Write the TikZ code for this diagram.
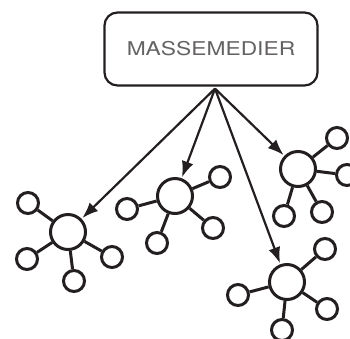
\documentclass[tikz,border=0pt]{standalone}
\usepackage{fontspec}
\setmainfont{TeX Gyre Heros}
\usepackage{tikz}
\usetikzlibrary{arrows.meta,calc}

\definecolor{ink}{HTML}{231F20}

\begin{document}
\begin{tikzpicture}[
		x=1pt, y=-1pt,
		media/.style={draw=ink, line width=2.2pt, rounded corners=13pt, minimum width=213pt, minimum height=73pt, align=center, font=\fontsize{19}{22}\selectfont, text=ink!70},
		hub/.style={draw=ink, circle, line width=3pt, minimum size=35pt, inner sep=0pt},
		sat/.style={draw=ink, circle, line width=3pt, minimum size=21pt, inner sep=0pt},
		spoke/.style={draw=ink, line width=3pt},
		arr/.style={-{Latex[length=16pt, width=12pt]}, draw=ink, line width=2.2pt, shorten >=1pt}
		]
		\clip (0,0) rectangle (350,338);
		
		\node[media] (mm) at (211,49) {\scalebox{1.2}[1]{MASSEMEDIER}};
		\coordinate (src) at ($(mm.south)+(4,2)$);
		
		% left group
		\node[hub] (g1) at (68,232) {};
		\node[sat] (g1a) at (28,203) {};
		\node[sat] (g1b) at (27,259) {};
		\node[sat] (g1c) at (74,281) {};
		\node[sat] (g1d) at (112,257) {};
		
		% middle group
		\node[hub] (g2) at (175,196) {};
		\node[sat] (g2a) at (127,209) {};
		\node[sat] (g2b) at (157,243) {};
		\node[sat] (g2c) at (220,177) {};
		\node[sat] (g2d) at (213,228) {};
		
		% upper right group
		\node[hub] (g3) at (298,169) {};
		\node[sat] (g3a) at (337,138) {};
		\node[sat] (g3b) at (347,175) {};
		\node[sat] (g3c) at (284,216) {};
		\node[sat] (g3d) at (322,212) {};
		
		% lower right group
		\node[hub] (g4) at (287,282) {};
		\node[sat] (g4a) at (238,295) {};
		\node[sat] (g4b) at (325,249) {};
		\node[sat] (g4c) at (327,309) {};
		\node[sat] (g4d) at (282,330) {};
		
		\draw[spoke] (g1) -- (g1a) (g1) -- (g1b) (g1) -- (g1c) (g1) -- (g1d);
		\draw[spoke] (g2) -- (g2a) (g2) -- (g2b) (g2) -- (g2c) (g2) -- (g2d);
		\draw[spoke] (g3) -- (g3a) (g3) -- (g3b) (g3) -- (g3c) (g3) -- (g3d);
		\draw[spoke] (g4) -- (g4a) (g4) -- (g4b) (g4) -- (g4c) (g4) -- (g4d);
		
		\draw[arr] (src) -- (g1);
		\draw[arr] (src) -- (g2);
		\draw[arr] (src) -- (g3);
		\draw[arr] (src) -- (g4);
		
	\end{tikzpicture}
\end{document}
